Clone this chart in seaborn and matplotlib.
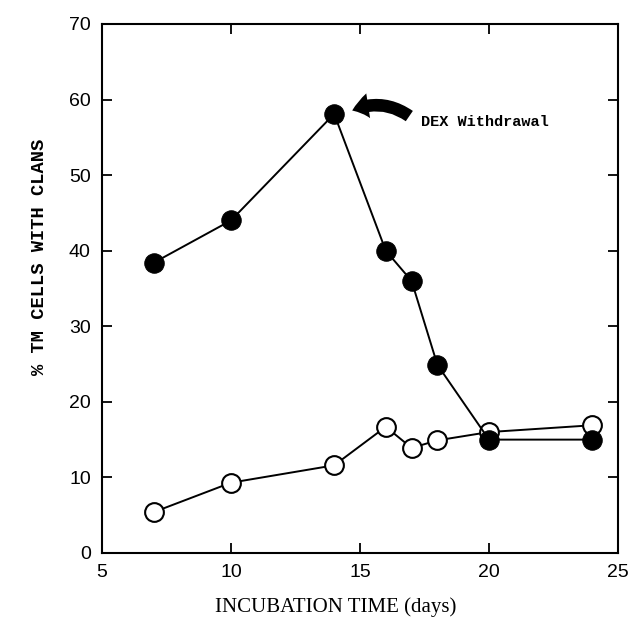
import matplotlib
matplotlib.use("Agg")
import matplotlib.pyplot as plt
import seaborn as sns

# incubation days and % TM cells with CLANs
days = [7, 10, 14, 16, 17, 18, 20, 24]
dex_treated = [38.4, 44.0, 58.1, 40.0, 36.0, 24.9, 15.0, 15.0]
control = [5.4, 9.3, 11.6, 16.7, 13.9, 14.9, 16.0, 16.9]

x_ticks = [5, 10, 15, 20, 25]
y_ticks = [0, 10, 20, 30, 40, 50, 60, 70]

sns.set_style("ticks")
plt.rcParams['font.family'] = ['Liberation Sans', 'DejaVu Sans']
plt.rcParams['text.color'] = 'black'
plt.rcParams['axes.labelcolor'] = 'black'
plt.rcParams['xtick.color'] = 'black'
plt.rcParams['ytick.color'] = 'black'

fig = plt.figure(figsize=(6.35, 6.23), dpi=100)
ax = fig.add_axes([0.1606, 0.1124, 0.8126, 0.8491])

# open circles first, filled ones sit on top where they overlap
sns.lineplot(x=days, y=control, ax=ax, color="black", lw=1.4,
             marker="o", markersize=13.5, markerfacecolor="white",
             markeredgecolor="black", markeredgewidth=1.5)
sns.lineplot(x=days, y=dex_treated, ax=ax, color="black", lw=1.4,
             marker="o", markersize=14, markerfacecolor="black",
             markeredgecolor="black")

ax.set_xlim(5, 25)
ax.set_ylim(0, 70)
ax.set_xticks(x_ticks)
ax.set_yticks(y_ticks)
ax.tick_params(axis="both", direction="in", length=7, width=1.3,
               labelsize=14, top=True, right=True, pad=8)
for s in ax.spines.values():
    s.set_linewidth(1.5)
    s.set_color("black")

ax.set_xlabel("INCUBATION TIME (days)", family="Liberation Serif",
              fontsize=15)
ax.set_ylabel("% TM CELLS WITH CLANS", family="Liberation Mono",
              fontweight="bold", fontsize=13.5)
ax.xaxis.set_label_coords(0.452, -0.083)
ax.yaxis.set_label_coords(-0.105, 0.56)

ax.annotate("", xy=(14.6, 58.4), xytext=(17.0, 57.6),
            arrowprops=dict(arrowstyle="simple,head_length=1.0,head_width=1.5,tail_width=0.75",
                            connectionstyle="arc3,rad=0.3", color="black", lw=0,
                            mutation_scale=12))
ax.text(17.35, 57.0, "DEX Withdrawal", family="Liberation Mono",
        fontweight="bold", fontsize=11, va="center", ha="left")

fig.savefig("out.png", dpi=100)
